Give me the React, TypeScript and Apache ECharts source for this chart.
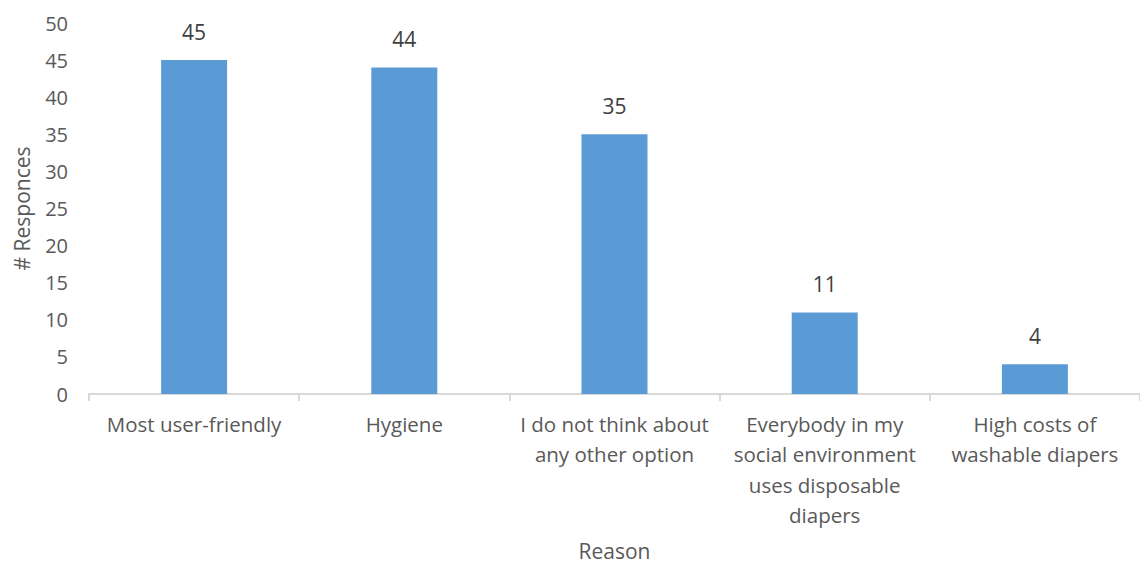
import React, { useEffect, useRef } from "react";
import * as echarts from "echarts";

const reasons = [
  "Most user-friendly",
  "Hygiene",
  "I do not think about\nany other option",
  "Everybody in my\nsocial environment\nuses disposable\ndiapers",
  "High costs of\nwashable diapers",
];
const responses = [45, 44, 35, 11, 4];
const yMin = 0;
const yMax = 50;
const yStep = 5;

const FONT = "'Open Sans', 'Noto Sans', sans-serif";

export default function App() {
  const ref = useRef<HTMLDivElement>(null);

  useEffect(() => {
    document.body.style.margin = "0";
    const chart = echarts.init(ref.current!, undefined, { renderer: "svg" });
    chart.setOption({
      animation: false,
      backgroundColor: "#ffffff",
      grid: { left: 89, top: 23, width: 1055, height: 371.5, containLabel: false },
      xAxis: {
        type: "category",
        data: reasons,
        name: "Reason",
        nameLocation: "middle",
        nameGap: 146,
        nameTextStyle: { color: "#595959", fontSize: 21, fontFamily: FONT },
        axisLine: { lineStyle: { color: "#d9d9d9", width: 2 } },
        axisTick: { show: true, length: 7, lineStyle: { color: "#d9d9d9", width: 2 } },
        axisLabel: {
          color: "#595959",
          fontSize: 20.5,
          fontFamily: FONT,
          lineHeight: 30.3,
          margin: 15,
          interval: 0,
        },
      },
      yAxis: {
        type: "value",
        min: yMin,
        max: yMax,
        interval: yStep,
        name: "# Responces",
        nameLocation: "middle",
        nameGap: 57,
        nameRotate: 90,
        nameTextStyle: { color: "#595959", fontSize: 21, fontFamily: FONT },
        axisLine: { show: false },
        axisTick: { show: false },
        splitLine: { show: false },
        axisLabel: { color: "#595959", fontSize: 20, fontFamily: FONT, margin: 21 },
      },
      series: [
        {
          type: "bar",
          data: responses,
          barWidth: 66,
          itemStyle: { color: "#5b9bd5" },
          label: {
            show: true,
            position: "top",
            distance: 18,
            color: "#404040",
            fontSize: 21,
            fontFamily: FONT,
          },
        },
      ],
    });
    return () => chart.dispose();
  }, []);

  return <div ref={ref} style={{ width: 1140, height: 566 }} />;
}
